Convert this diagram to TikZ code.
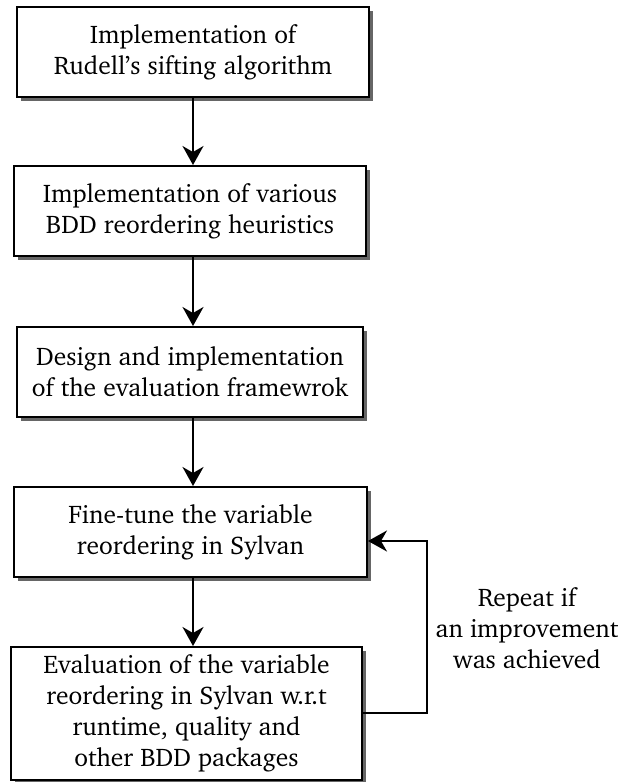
\documentclass[tikz,border=0pt]{standalone}
\usepackage[T1]{fontenc}
\usepackage{charter}
\usetikzlibrary{arrows.meta,shadows}

\tikzset{
  stepbox/.style={
    draw=black, line width=2pt, fill=white, inner sep=0pt,
    align=center, font=\fontsize{25.5}{31}\selectfont,
    drop shadow={shadow xshift=4pt, shadow yshift=-4pt,
                 fill=black!60, opacity=1}
  },
  flow/.style={line width=2pt,
    -{Stealth[length=19pt,width=21pt,inset=6pt]}},
  note/.style={align=center, font=\fontsize{25.5}{31}\selectfont}
}

\begin{document}
\begin{tikzpicture}[x=1pt,y=-1pt]
  \useasboundingbox (0,0) rectangle (623,782);

  \node[stepbox, minimum width=352pt, minimum height=90pt] (b1) at (193,52)
    {Implementation of\\Rudell's sifting algorithm};
  \node[stepbox, minimum width=352pt, minimum height=90pt] (b2) at (190,211)
    {Implementation of various\\BDD reordering heuristics};
  \node[stepbox, minimum width=346pt, minimum height=90pt] (b3) at (190,372)
    {Design and implementation\\of the evaluation framewrok};
  \node[stepbox, minimum width=353pt, minimum height=90pt] (b4) at (190.5,532)
    {Fine-tune the variable\\reordering in Sylvan};
  \node[stepbox, minimum width=351pt, minimum height=133pt] (b5) at (186.5,713.5)
    {Evaluation of the variable\\reordering in Sylvan w.r.t\\runtime, quality and\\other BDD packages};

  % main flow
  \coordinate (a1) at (193,0);
  \draw[flow] (b1.south -| a1) -- (b2.north -| a1);
  \draw[flow] (b2.south -| a1) -- (b3.north -| a1);
  \draw[flow] (b3.south -| a1) -- (b4.north -| a1);
  \draw[flow] (b4.south -| a1) -- (b5.north -| a1);

  % feedback loop
  \coordinate (c1) at (427,713);
  \coordinate (c2) at (427,541);
  \draw[flow] (b5.east |- c1) -- (c1) -- (c2) -- (c2 -| b4.east);

  \node[note] (lbl) at (527,628) {Repeat if\\an improvement\\was achieved};
\end{tikzpicture}
\end{document}
